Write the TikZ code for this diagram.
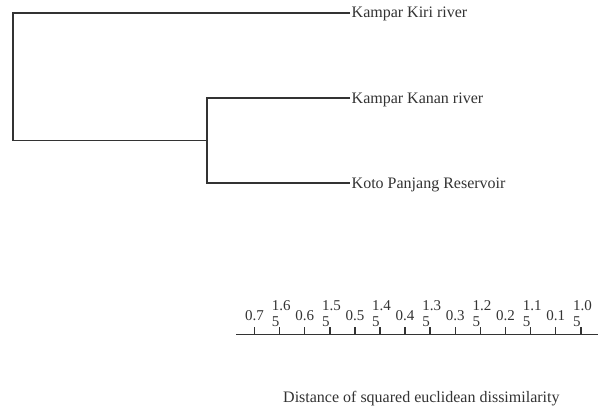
\documentclass[tikz,border=0pt]{standalone}
\usepackage{fontspec}
\setmainfont{Liberation Serif}
\definecolor{ink}{HTML}{333333}
\definecolor{wire}{HTML}{333333}
\begin{document}
\begin{tikzpicture}[x=1pt,y=-1pt,
  wirestyle/.style={draw=wire,line width=1.7pt,line join=miter},
  leaf/.style={anchor=west,inner sep=1.5pt,text=ink,font=\fontsize{16}{19}\selectfont,text height=10.6pt,text depth=0pt},
  ticklab/.style={inner sep=0pt,text=ink,font=\fontsize{15}{16}\selectfont},
  ticktwo/.style={ticklab,anchor=north west,align=left},
  titlestyle/.style={anchor=base west,inner sep=0pt,text=ink,font=\fontsize{16}{19}\selectfont}]
\useasboundingbox[fill=white] (0,0) rectangle (598,412);
% leaves
\node[leaf] (kiri) at (350,12.7) {Kampar Kiri river};
\node[leaf] (kanan) at (350,98) {Kampar Kanan river};
\node[leaf] (koto) at (350,183) {Koto Panjang Reservoir};
% junctions
\coordinate (j1) at (207,140.5);
\coordinate (j0) at (13,140.5);
\draw[wirestyle] (kiri.west) -| (j0) -- (j1);
\draw[wirestyle] (kanan.west) -| (j1) |- (koto.west);
% axis
\coordinate (a0) at (236,334.5);
\coordinate (a1) at (598,334.5);
\draw[wirestyle] (a0) -- (a1);
\foreach \k in {0,...,13}{
  \draw[draw=wire,line width=1.5pt] ({254.5+25.1*\k},327) -- ({254.5+25.1*\k},334.5);
}
\foreach \k/\t in {0/0.7,2/0.6,4/0.5,6/0.4,8/0.3,10/0.2,12/0.1}{
  \node[ticklab] (t\k) at ({254.5+25.1*\k},315.5) {\t};
}
\foreach \k/\t in {1/1.6,3/1.5,5/1.4,7/1.3,9/1.2,11/1.1,13/1.0}{
  \node[ticktwo] (t\k) at ({254.5+25.1*\k-8},300) {\t\\5};
}
\node[titlestyle] (title) at (283,402) {Distance of squared euclidean dissimilarity};
\end{tikzpicture}
\end{document}
